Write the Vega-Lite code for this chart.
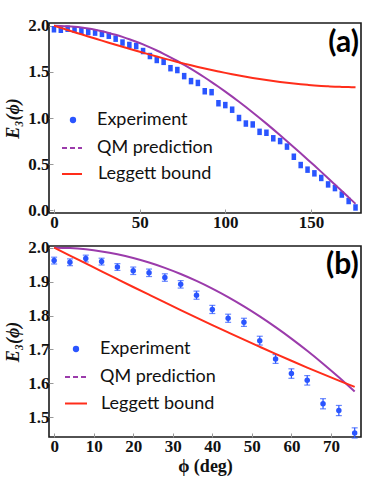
{
  "$schema": "https://vega.github.io/schema/vega-lite/v6.json",
  "padding": {"left": 3, "top": 15, "right": 0, "bottom": 0},
  "autosize": {"type": "pad"},
  "spacing": 6,
  "background": "white",
  "datasets": {
    "exp": [
      {"phi": 0, "E": 1.962, "err": 0.010},
      {"phi": 4, "E": 1.957, "err": 0.010},
      {"phi": 8, "E": 1.968, "err": 0.010},
      {"phi": 12, "E": 1.959, "err": 0.010},
      {"phi": 16, "E": 1.943, "err": 0.010},
      {"phi": 20, "E": 1.932, "err": 0.011},
      {"phi": 24, "E": 1.926, "err": 0.011},
      {"phi": 28, "E": 1.912, "err": 0.011},
      {"phi": 32, "E": 1.892, "err": 0.011},
      {"phi": 36, "E": 1.860, "err": 0.012},
      {"phi": 40, "E": 1.818, "err": 0.012},
      {"phi": 44, "E": 1.792, "err": 0.012},
      {"phi": 48, "E": 1.780, "err": 0.012},
      {"phi": 52, "E": 1.726, "err": 0.013},
      {"phi": 56, "E": 1.672, "err": 0.013},
      {"phi": 60, "E": 1.629, "err": 0.014},
      {"phi": 64, "E": 1.609, "err": 0.014},
      {"phi": 68, "E": 1.540, "err": 0.015},
      {"phi": 72, "E": 1.520, "err": 0.015},
      {"phi": 76, "E": 1.454, "err": 0.015},
      {"phi": 80, "E": 1.40, "err": 0.015},
      {"phi": 84, "E": 1.38, "err": 0.015},
      {"phi": 88, "E": 1.29, "err": 0.015},
      {"phi": 92, "E": 1.28, "err": 0.015},
      {"phi": 96, "E": 1.16, "err": 0.015},
      {"phi": 100, "E": 1.14, "err": 0.015},
      {"phi": 104, "E": 1.09, "err": 0.015},
      {"phi": 108, "E": 1.00, "err": 0.015},
      {"phi": 112, "E": 0.94, "err": 0.015},
      {"phi": 116, "E": 0.93, "err": 0.015},
      {"phi": 120, "E": 0.85, "err": 0.015},
      {"phi": 124, "E": 0.84, "err": 0.015},
      {"phi": 128, "E": 0.78, "err": 0.015},
      {"phi": 132, "E": 0.75, "err": 0.015},
      {"phi": 136, "E": 0.69, "err": 0.015},
      {"phi": 140, "E": 0.58, "err": 0.015},
      {"phi": 144, "E": 0.49, "err": 0.015},
      {"phi": 148, "E": 0.44, "err": 0.015},
      {"phi": 152, "E": 0.40, "err": 0.015},
      {"phi": 156, "E": 0.35, "err": 0.015},
      {"phi": 160, "E": 0.28, "err": 0.015},
      {"phi": 164, "E": 0.24, "err": 0.015},
      {"phi": 168, "E": 0.17, "err": 0.015},
      {"phi": 172, "E": 0.10, "err": 0.015},
      {"phi": 176, "E": 0.03, "err": 0.015}
    ],
    "theory": [
      {"phi": 0, "qm": 2.0000, "leggett": 2.0000},
      {"phi": 4, "qm": 1.9988, "leggett": 1.9767},
      {"phi": 8, "qm": 1.9951, "leggett": 1.9535},
      {"phi": 12, "qm": 1.9890, "leggett": 1.9303},
      {"phi": 16, "qm": 1.9805, "leggett": 1.9072},
      {"phi": 20, "qm": 1.9696, "leggett": 1.8842},
      {"phi": 24, "qm": 1.9563, "leggett": 1.8614},
      {"phi": 28, "qm": 1.9406, "leggett": 1.8387},
      {"phi": 32, "qm": 1.9225, "leggett": 1.8162},
      {"phi": 36, "qm": 1.9021, "leggett": 1.7940},
      {"phi": 40, "qm": 1.8794, "leggett": 1.7720},
      {"phi": 44, "qm": 1.8544, "leggett": 1.7503},
      {"phi": 48, "qm": 1.8271, "leggett": 1.7288},
      {"phi": 52, "qm": 1.7976, "leggett": 1.7078},
      {"phi": 56, "qm": 1.7659, "leggett": 1.6870},
      {"phi": 60, "qm": 1.7321, "leggett": 1.6667},
      {"phi": 64, "qm": 1.6961, "leggett": 1.6467},
      {"phi": 68, "qm": 1.6581, "leggett": 1.6272},
      {"phi": 72, "qm": 1.6180, "leggett": 1.6081},
      {"phi": 76, "qm": 1.5760, "leggett": 1.5896},
      {"phi": 80, "qm": 1.5321, "leggett": 1.5715},
      {"phi": 84, "qm": 1.4863, "leggett": 1.5539},
      {"phi": 88, "qm": 1.4387, "leggett": 1.5369},
      {"phi": 92, "qm": 1.3893, "leggett": 1.5204},
      {"phi": 96, "qm": 1.3383, "leggett": 1.5046},
      {"phi": 100, "qm": 1.2856, "leggett": 1.4893},
      {"phi": 104, "qm": 1.2313, "leggett": 1.4747},
      {"phi": 108, "qm": 1.1756, "leggett": 1.4607},
      {"phi": 112, "qm": 1.1184, "leggett": 1.4473},
      {"phi": 116, "qm": 1.0598, "leggett": 1.4346},
      {"phi": 120, "qm": 1.0000, "leggett": 1.4226},
      {"phi": 124, "qm": 0.9389, "leggett": 1.4114},
      {"phi": 128, "qm": 0.8767, "leggett": 1.4008},
      {"phi": 132, "qm": 0.8135, "leggett": 1.3910},
      {"phi": 136, "qm": 0.7492, "leggett": 1.3819},
      {"phi": 140, "qm": 0.6840, "leggett": 1.3735},
      {"phi": 144, "qm": 0.6180, "leggett": 1.3660},
      {"phi": 148, "qm": 0.5513, "leggett": 1.3592},
      {"phi": 152, "qm": 0.4838, "leggett": 1.3531},
      {"phi": 156, "qm": 0.4158, "leggett": 1.3479},
      {"phi": 160, "qm": 0.3473, "leggett": 1.3435},
      {"phi": 164, "qm": 0.2783, "leggett": 1.3398},
      {"phi": 168, "qm": 0.2091, "leggett": 1.3370},
      {"phi": 172, "qm": 0.1395, "leggett": 1.3350},
      {"phi": 176, "qm": 0.0698, "leggett": 1.3337}
    ]
  },
  "config": {
    "view": {"stroke": "#1a1a1a", "strokeWidth": 1.6},
    "axis": {
      "grid": false, "domain": false,
      "labelFont": "Liberation Serif", "labelFontWeight": "bold", "labelFontSize": 17, "labelColor": "#111",
      "labelFlush": false, "labelOverlap": false,
      "tickColor": "#999", "tickSize": -4, "tickWidth": 1,
      "titleFont": "Liberation Serif, DejaVu Serif", "titleFontWeight": "bold", "titleFontSize": 18, "titleColor": "#111"
    },
    "legend": {
      "orient": "none", "title": null, "padding": 0,
      "symbolStrokeWidth": 2,
      "labelFont": "Lato", "labelFontSize": 18, "labelColor": "#111"
    }
  },
  "resolve": {
    "scale": {"color": "independent", "fill": "independent", "stroke": "independent"},
    "legend": {"color": "independent", "fill": "independent", "stroke": "independent"}
  },
  "vconcat": [
    {
      "width": 312, "height": 190,
      "layer": [
        {
          "data": {"name": "exp"},
          "mark": {"type": "point", "filled": true, "opacity": 1, "strokeWidth": 0, "shape": "M-0.7,-1H0.7V1H-0.7Z", "size": 42},
          "encoding": {
            "x": {"field": "phi", "type": "quantitative", "scale": {"domain": [-2.9, 179.2], "nice": false, "zero": false},
                  "axis": {"values": [0, 50, 100, 150], "title": null, "labelPadding": 5, "labelOverlap": false}},
            "y": {"field": "E", "type": "quantitative", "scale": {"domain": [-0.03, 2.03], "nice": false, "zero": false},
                  "axis": {"values": [0, 0.5, 1, 1.5, 2], "format": ".1f", "title": "E₃(ϕ)", "titleFontStyle": "italic", "labelPadding": 4, "titlePadding": 5, "labelOverlap": false}},
            "fill": {
              "datum": "Experiment",
              "scale": {"domain": ["Experiment"], "range": ["#2a55ff"]},
              "legend": {"legendX": 15, "legendY": 88, "symbolType": "circle", "symbolSize": 40, "labelOffset": 15}
            }
          }
        },
        {
          "data": {"name": "theory"},
          "mark": {"type": "line", "strokeWidth": 2, "interpolate": "monotone"},
          "encoding": {
            "x": {"field": "phi", "type": "quantitative"},
            "y": {"field": "qm", "type": "quantitative"},
            "stroke": {
              "datum": "QM prediction",
              "scale": {"domain": ["QM prediction"], "range": ["#9b3bab"]},
              "legend": {"legendX": 12, "legendY": 114, "symbolType": "stroke", "symbolSize": 400, "symbolDash": [5, 3], "labelOffset": 14}
            }
          }
        },
        {
          "data": {"name": "theory"},
          "mark": {"type": "line", "strokeWidth": 2, "interpolate": "monotone"},
          "encoding": {
            "x": {"field": "phi", "type": "quantitative"},
            "y": {"field": "leggett", "type": "quantitative"},
            "color": {
              "datum": "Leggett bound",
              "scale": {"domain": ["Leggett bound"], "range": ["#ff2d1a"]},
              "legend": {"legendX": 12, "legendY": 140, "symbolType": "stroke", "symbolSize": 400, "labelOffset": 15}
            }
          }
        },
        {
          "data": {"values": [{"label": "(a)"}]},
          "mark": {"type": "text", "font": "Lato", "fontWeight": "bold", "fontSize": 30, "align": "right", "baseline": "middle", "color": "#000"},
          "encoding": {
            "x": {"datum": 178},
            "y": {"datum": 1.816},
            "text": {"field": "label"}
          }
        }
      ]
    },
    {
      "width": 312, "height": 191,
      "layer": [
        {
          "data": {"name": "exp"},
          "transform": [{"filter": "datum.phi <= 76"}],
          "mark": {"type": "errorbar", "ticks": {"size": 6, "color": "#2a55ff"}, "color": "#2a55ff", "thickness": 1.2},
          "encoding": {
            "x": {"field": "phi", "type": "quantitative"},
            "y": {"field": "E", "type": "quantitative", "axis": {"title": "E₃(ϕ)"}},
            "yError": {"field": "err"}
          }
        },
        {
          "data": {"name": "exp"},
          "transform": [{"filter": "datum.phi <= 76"}],
          "mark": {"type": "point", "filled": true, "opacity": 1, "strokeWidth": 0, "shape": "circle", "size": 30},
          "encoding": {
            "x": {"field": "phi", "type": "quantitative", "scale": {"domain": [-1.3, 77.6], "nice": false, "zero": false},
                  "axis": {"values": [0, 10, 20, 30, 40, 50, 60, 70], "title": "ϕ (deg)", "labelPadding": 5, "titlePadding": 3, "labelOverlap": false}},
            "y": {"field": "E", "type": "quantitative", "scale": {"domain": [1.442, 2.005], "nice": false, "zero": false},
                  "axis": {"tickCount": 6, "format": ".1f", "title": "E₃(ϕ)", "titleFontStyle": "italic", "labelPadding": 4, "titlePadding": 5, "labelOverlap": false}},
            "fill": {
              "datum": "Experiment",
              "scale": {"domain": ["Experiment"], "range": ["#2a55ff"]},
              "legend": {"legendX": 18, "legendY": 94, "symbolType": "circle", "symbolSize": 40, "labelOffset": 15}
            }
          }
        },
        {
          "data": {"name": "theory"},
          "transform": [{"filter": "datum.phi <= 76"}],
          "mark": {"type": "line", "strokeWidth": 2, "interpolate": "monotone"},
          "encoding": {
            "x": {"field": "phi", "type": "quantitative"},
            "y": {"field": "qm", "type": "quantitative"},
            "stroke": {
              "datum": "QM prediction",
              "scale": {"domain": ["QM prediction"], "range": ["#9b3bab"]},
              "legend": {"legendX": 15, "legendY": 119, "symbolType": "stroke", "symbolSize": 484, "symbolDash": [5, 3], "labelOffset": 12}
            }
          }
        },
        {
          "data": {"name": "theory"},
          "transform": [{"filter": "datum.phi <= 76"}],
          "mark": {"type": "line", "strokeWidth": 2, "interpolate": "monotone"},
          "encoding": {
            "x": {"field": "phi", "type": "quantitative"},
            "y": {"field": "leggett", "type": "quantitative"},
            "color": {
              "datum": "Leggett bound",
              "scale": {"domain": ["Leggett bound"], "range": ["#ff2d1a"]},
              "legend": {"legendX": 15, "legendY": 145.5, "symbolType": "stroke", "symbolSize": 484, "labelOffset": 13}
            }
          }
        },
        {
          "data": {"values": [{"label": "(b)"}]},
          "mark": {"type": "text", "font": "Lato", "fontWeight": "bold", "fontSize": 30, "align": "right", "baseline": "middle", "color": "#000"},
          "encoding": {
            "x": {"datum": 77.0},
            "y": {"datum": 1.95},
            "text": {"field": "label"}
          }
        }
      ]
    }
  ]
}
